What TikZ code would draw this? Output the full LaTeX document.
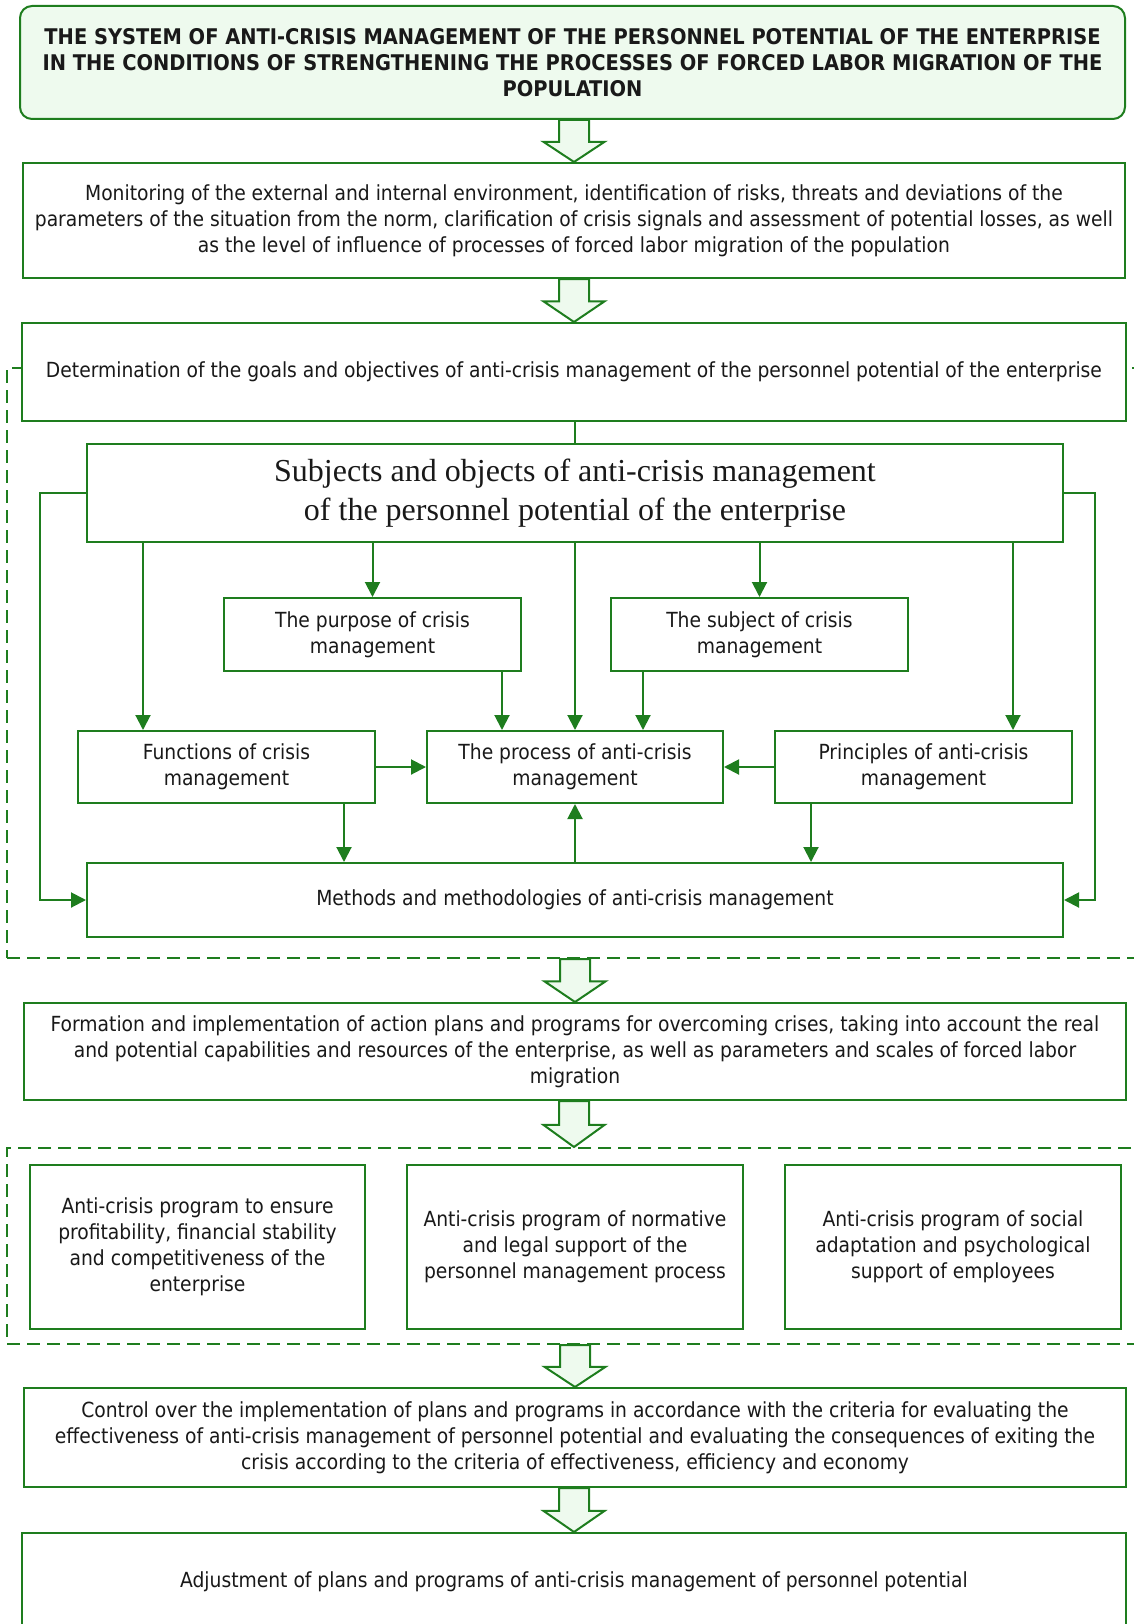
\documentclass[tikz,border=0pt]{standalone}
\usepackage{fontspec}
\setmainfont{DejaVu Sans Condensed}
\newfontfamily\serifface{Liberation Serif}
\usetikzlibrary{arrows.meta,calc}
\definecolor{gline}{RGB}{30,125,30}
\definecolor{gfill}{RGB}{238,250,238}
\newcommand\txtfont{\fontsize{20.8}{26}\selectfont}
\newcommand\bigarrow[2]{%
  \draw[blockarr] let \p1=(#1.south), \p2=(#2.north), \n1={0.52*(\y1-\y2)} in
  (\x2-15pt,\y1) -- (\x2+15pt,\y1) -- (\x2+15pt,\y1-\n1) -- (\x2+30.5pt,\y1-\n1)
  -- (\x2,\y2) -- (\x2-30.5pt,\y1-\n1) -- (\x2-15pt,\y1-\n1) -- cycle;}
\begin{document}
\begin{tikzpicture}[x=1pt,y=-1pt,
  box/.style={draw=gline, line width=2pt, fill=white, align=center, inner sep=0pt, font=\txtfont, text=black!90},
  conn/.style={draw=gline, line width=2pt, -{Triangle[length=15pt,width=15pt]}},
  plain/.style={draw=gline, line width=2pt},
  blockarr/.style={draw=gline, fill=gfill, line width=2pt, line join=miter},
  dashgrp/.style={draw=gline, line width=2pt, dash pattern=on 13pt off 7pt, inner sep=0pt}]
\useasboundingbox (0,0) rectangle (1134,1624);
\clip (0,0) rectangle (1134,1624);

% dashed groups
\node[dashgrp, minimum width=1134, minimum height=590] (grp1) at (574,663) {};
\node[dashgrp, minimum width=1134, minimum height=196] (grp2) at (574,1246) {};

% title
\node[box, fill=gfill, rounded corners=12pt, minimum width=1105, minimum height=113,
  font=\fontsize{21.6}{26}\selectfont\bfseries] (title) at (572.5,62.5)
  {THE SYSTEM OF ANTI-CRISIS MANAGEMENT OF THE PERSONNEL POTENTIAL OF THE ENTERPRISE\\
   IN THE CONDITIONS OF STRENGTHENING THE PROCESSES OF FORCED LABOR MIGRATION OF THE\\
   POPULATION};

\node[box, minimum width=1102, minimum height=115] (mon) at (574,220.5)
  {Monitoring of the external and internal environment, identification of risks, threats and deviations of the\\
   parameters of the situation from the norm, clarification of crisis signals and assessment of potential losses, as well\\
   as the level of influence of processes of forced labor migration of the population};

\node[box, minimum width=1104, minimum height=98] (det) at (574,372)
  {Determination of the goals and objectives of anti-crisis management of the personnel potential of the enterprise};

\node[box, minimum width=976, minimum height=98, font=\serifface\fontsize{32}{39}\selectfont] (subj) at (575,493)
  {Subjects and objects of anti-crisis management\\ of the personnel potential of the enterprise};

\node[box, minimum width=297, minimum height=73] (purp) at (372.5,634.5) {The purpose of crisis\\ management};
\node[box, minimum width=297, minimum height=73] (subc) at (759.5,634.5) {The subject of crisis\\ management};
\node[box, minimum width=297, minimum height=72] (func) at (226.5,767) {Functions of crisis\\ management};
\node[box, minimum width=296, minimum height=72] (proc) at (575,767) {The process of anti-crisis\\ management};
\node[box, minimum width=297, minimum height=72] (prin) at (923.5,767) {Principles of anti-crisis\\ management};
\node[box, minimum width=976, minimum height=74] (meth) at (575,900) {Methods and methodologies of anti-crisis management};

\node[box, minimum width=1102, minimum height=97] (form) at (575,1051.5)
  {Formation and implementation of action plans and programs for overcoming crises, taking into account the real\\
   and potential capabilities and resources of the enterprise, as well as parameters and scales of forced labor\\
   migration};

\node[box, minimum width=335, minimum height=164] (pa) at (197.5,1247)
  {Anti-crisis program to ensure\\ profitability, financial stability\\ and competitiveness of the\\ enterprise};
\node[box, minimum width=336, minimum height=164] (pb) at (575,1247)
  {Anti-crisis program of normative\\ and legal support of the\\ personnel management process};
\node[box, minimum width=336, minimum height=164] (pc) at (953,1247)
  {Anti-crisis program of social\\ adaptation and psychological\\ support of employees};

\node[box, minimum width=1102, minimum height=99] (ctrl) at (575,1437.5)
  {Control over the implementation of plans and programs in accordance with the criteria for evaluating the\\
   effectiveness of anti-crisis management of personnel potential and evaluating the consequences of exiting the\\
   crisis according to the criteria of effectiveness, efficiency and economy};

\node[box, minimum width=1104, minimum height=98] (adj) at (574,1582)
  {Adjustment of plans and programs of anti-crisis management of personnel potential};

% block arrows
\bigarrow{title}{mon}
\bigarrow{mon}{det}
\bigarrow{grp1}{form}
\bigarrow{form}{grp2}
\bigarrow{grp2}{ctrl}
\bigarrow{ctrl}{adj}

% connectors
\coordinate (fx) at ([xshift=-83.5pt]func.north);
\coordinate (px) at ([xshift=89.5pt]prin.north);
\coordinate (pux) at ([xshift=129.5pt]purp.south);
\coordinate (sux) at ([xshift=-116.5pt]subc.south);
\coordinate (fmx) at ([xshift=117.5pt]func.south);
\coordinate (pmx) at ([xshift=-112.5pt]prin.south);

\draw[plain] (subj.north |- det.south) -- (subj.north);
\draw[conn] (subj.south -| purp.north) -- (purp.north);
\draw[conn] (subj.south -| subc.north) -- (subc.north);
\draw[conn] (subj.south -| fx) -- (fx);
\draw[conn] (subj.south -| px) -- (px);
\draw[conn] (subj.south) -- (proc.north);
\draw[conn] (pux) -- (pux |- proc.north);
\draw[conn] (sux) -- (sux |- proc.north);
\draw[conn] (func.east) -- (proc.west);
\draw[conn] (prin.west) -- (proc.east);
\draw[conn] (fmx) -- (fmx |- meth.north);
\draw[conn] (pmx) -- (pmx |- meth.north);
\draw[conn] (meth.north) -- (proc.south);
\draw[conn] (subj.west) -- ++(-46,0) |- (meth.west);
\draw[conn] (subj.east) -- ++(31,0) |- (meth.east);
\end{tikzpicture}
\end{document}
